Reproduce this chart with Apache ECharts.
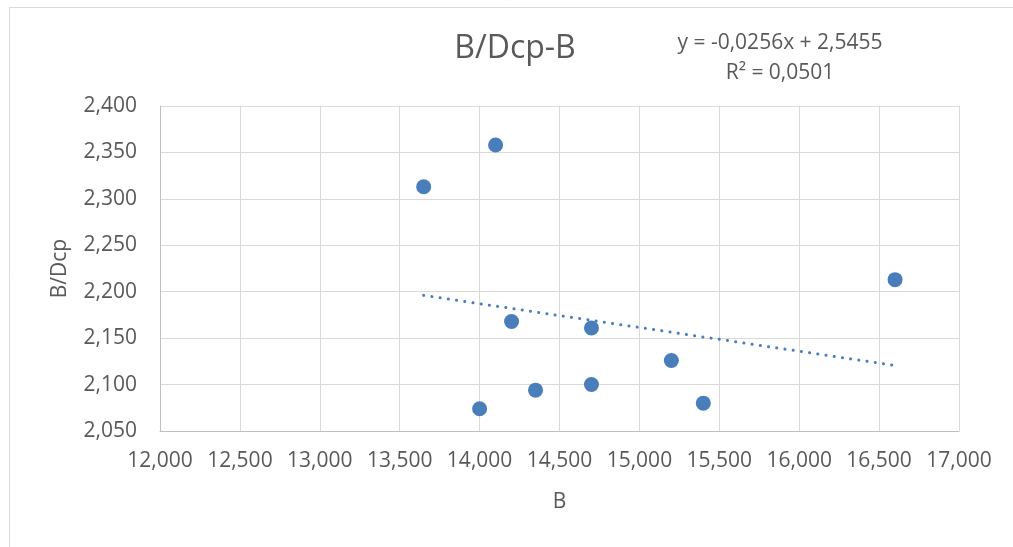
<!DOCTYPE html>
<html>
<head>
<meta charset="utf-8">
<title>B/Dcp-B</title>
<script src="https://cdn.jsdelivr.net/npm/echarts@6/dist/echarts.min.js"></script>
<style>
  html, body { margin: 0; padding: 0; background: #ffffff; }
  #chart { width: 1013px; height: 547px; }
</style>
</head>
<body>
<div id="chart"></div>
<script>
// Measurements: B on the horizontal axis, B/Dcp on the vertical axis
const bValues    = [13.65, 14.10, 14.20, 14.70, 16.60, 15.20, 14.70, 14.35, 14.00, 15.40];
const bdcpValues = [2.313, 2.358, 2.168, 2.161, 2.213, 2.126, 2.100, 2.094, 2.074, 2.080];

// Linear trend line as stated in the equation label
const trendSlope = -0.0256;
const trendIntercept = 2.5455;
const trendR2 = 0.0501;

// Axis ranges and tick spacing
const xRange = [12, 17, 0.5];
const yRange = [2.05, 2.40, 0.05];

const FONT = '"Open Sans", "Noto Sans", sans-serif';
const TEXT_COLOR = '#595959';
const BLUE = '#4a7ebb';

// Numbers use a decimal comma with three decimals
const fmt3 = v => v.toFixed(3).replace('.', ',');
const fmtN = (v, d) => Math.abs(v).toFixed(d).replace('.', ',');

const points = bValues.map((b, i) => [b, bdcpValues[i]]);
const xMin = Math.min(...bValues);
const xMax = Math.max(...bValues);
const trendPoints = [xMin, xMax].map(x => [x, trendSlope * x + trendIntercept]);

const eqLine1 = 'y = ' + (trendSlope < 0 ? '-' : '') + fmtN(trendSlope, 4) + 'x ' +
  (trendIntercept < 0 ? '- ' : '+ ') + fmtN(trendIntercept, 4);
const eqLine2 = 'R² = ' + fmtN(trendR2, 4);

const eqStyle = {
  align: 'center',
  verticalAlign: 'middle',
  fontFamily: FONT,
  fontSize: 21,
  fill: TEXT_COLOR
};

const chart = echarts.init(document.getElementById('chart'), null, { renderer: 'canvas' });

chart.setOption({
  backgroundColor: '#ffffff',
  animation: false,
  textStyle: { fontFamily: FONT },
  title: {
    text: 'B/Dcp-B',
    left: 510,
    top: 28,
    textAlign: 'center',
    textStyle: { fontFamily: FONT, fontSize: 32, fontWeight: 'normal', color: TEXT_COLOR }
  },
  graphic: [
    {
      type: 'rect',
      z: -10,
      silent: true,
      shape: { x: 9.5, y: 7.5, width: 1100, height: 600 },
      style: { fill: 'none', stroke: '#d9d9d9', lineWidth: 1 }
    },
    {
      type: 'text',
      x: 780,
      y: 43,
      silent: true,
      style: Object.assign({ text: eqLine1 }, eqStyle)
    },
    {
      type: 'text',
      x: 780,
      y: 73,
      silent: true,
      style: Object.assign({ text: eqLine2 }, eqStyle)
    }
  ],
  grid: { left: 160, right: 54, top: 106, bottom: 116, containLabel: false },
  xAxis: {
    type: 'value',
    min: xRange[0],
    max: xRange[1],
    interval: xRange[2],
    name: 'B',
    nameLocation: 'middle',
    nameGap: 61,
    nameTextStyle: { fontFamily: FONT, fontSize: 21, color: TEXT_COLOR },
    axisLine: { show: true, onZero: false, lineStyle: { color: '#bfbfbf', width: 1 } },
    axisTick: { show: false },
    axisLabel: { margin: 20, fontFamily: FONT, fontSize: 21, color: TEXT_COLOR, formatter: fmt3 },
    splitLine: { show: true, lineStyle: { color: '#d9d9d9', width: 1 } }
  },
  yAxis: {
    type: 'value',
    min: yRange[0],
    max: yRange[1],
    interval: yRange[2],
    name: 'B/Dcp',
    nameLocation: 'middle',
    nameRotate: 90,
    nameGap: 89,
    nameTextStyle: { fontFamily: FONT, fontSize: 21, color: TEXT_COLOR },
    axisLine: { show: true, onZero: false, lineStyle: { color: '#bfbfbf', width: 1 } },
    axisTick: { show: false },
    axisLabel: { margin: 23, fontFamily: FONT, fontSize: 21, color: TEXT_COLOR, formatter: fmt3 },
    splitLine: { show: true, lineStyle: { color: '#d9d9d9', width: 1 } }
  },
  series: [
    {
      name: 'B/Dcp',
      type: 'scatter',
      data: points,
      symbol: 'circle',
      symbolSize: 15,
      itemStyle: { color: BLUE, opacity: 1 },
      z: 3
    },
    {
      name: 'trend',
      type: 'line',
      data: trendPoints,
      symbol: 'none',
      lineStyle: { color: BLUE, width: 3, type: [0.1, 8.2], cap: 'round', opacity: 1 },
      z: 2
    }
  ]
});
</script>
</body>
</html>
